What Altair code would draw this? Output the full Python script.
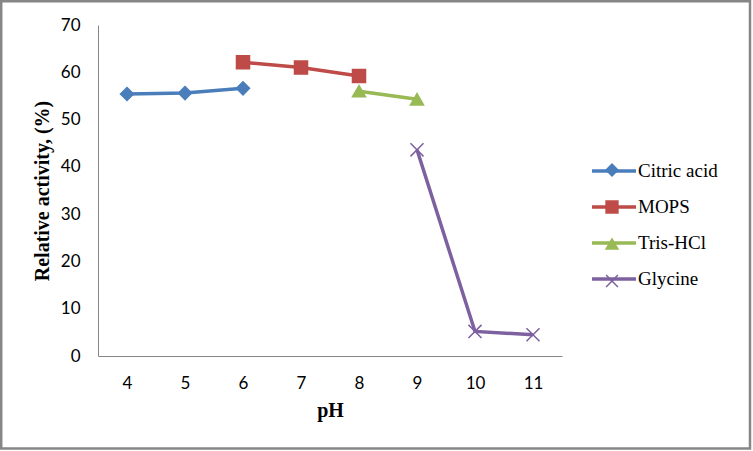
import altair as alt
import pandas as pd

series_names = ["Citric acid", "MOPS", "Tris-HCl", "Glycine"]
ph_labels = ["4", "5", "6", "7", "8", "9", "10", "11"]

citric_ph = ["4", "5", "6"]
citric_val = [55.4, 55.6, 56.6]
mops_ph = ["6", "7", "8"]
mops_val = [62.1, 61.0, 59.2]
tris_ph = ["8", "9"]
tris_val = [56.0, 54.3]
gly_ph = ["9", "10", "11"]
gly_val = [43.6, 5.2, 4.5]

colors = ["#4A7EBB", "#BE4B48", "#98B954", "#7D60A0"]
shapes = ["diamond", "square", "triangle-up", "M-1,-1L1,1M-1,1L1,-1"]

# marker-legend keys (kept distinct so the two legends are not merged)
marker_keys = [n + " " for n in series_names]

rows = []
for name, key, phs, vals in [("Citric acid", marker_keys[0], citric_ph, citric_val),
                             ("MOPS", marker_keys[1], mops_ph, mops_val),
                             ("Tris-HCl", marker_keys[2], tris_ph, tris_val),
                             ("Glycine", marker_keys[3], gly_ph, gly_val)]:
    for p, v in zip(phs, vals):
        rows.append({"series": name, "marker": key, "ph": p, "value": v})
df = pd.DataFrame(rows)

SERIF = "Liberation Serif"
SANS = "Lato"

x_enc = alt.X("ph:N", sort=ph_labels,
              scale=alt.Scale(domain=ph_labels, padding=0.5),
              axis=alt.Axis(title="pH", labelAngle=0, ticks=False, grid=False,
                            labelPadding=19, titlePadding=9,
                            labelFont=SANS, labelFontSize=17, labelColor="#000000",
                            titleFont=SERIF, titleFontSize=20, titleFontWeight="bold",
                            titleColor="#000000",
                            domainColor="#868686", domainWidth=1))
y_enc = alt.Y("value:Q", scale=alt.Scale(domain=[0, 70], nice=False),
              axis=alt.Axis(title="Relative activity, (%)", values=list(range(0, 71, 10)),
                            ticks=False, grid=False, labelPadding=18, titlePadding=8,
                            labelFont=SANS, labelFontSize=17, labelColor="#000000",
                            titleFont=SERIF, titleFontSize=20, titleFontWeight="bold",
                            titleColor="#000000",
                            domainColor="#868686", domainWidth=1))

line_legend = alt.Legend(title=None, orient="none", legendX=492, legendY=122,
                         symbolType="stroke", symbolSize=1936, symbolStrokeWidth=3.5,
                         labelFont=SERIF, labelFontSize=19, labelColor="#000000",
                         labelOffset=0, rowPadding=2, padding=0)
point_legend = alt.Legend(title=None, orient="none", legendX=507, legendY=138,
                          symbolSize=140, symbolStrokeWidth=1.5,
                          labelExpr="''", labelOffset=0, rowPadding=19, padding=0)

base = alt.Chart(df)

lines = base.mark_line(strokeWidth=3.5).encode(
    x=x_enc, y=y_enc,
    color=alt.Color("series:N", scale=alt.Scale(domain=series_names, range=colors),
                    legend=line_legend),
    detail="series:N",
)

points = base.mark_point(filled=True, size=170, strokeWidth=1.5, opacity=1).encode(
    x=x_enc, y=y_enc,
    fill=alt.Fill("marker:N", scale=alt.Scale(domain=marker_keys, range=colors),
                  legend=point_legend),
    stroke=alt.Stroke("marker:N", scale=alt.Scale(domain=marker_keys, range=colors),
                      legend=point_legend),
    shape=alt.Shape("marker:N", scale=alt.Scale(domain=marker_keys, range=shapes),
                    legend=point_legend),
)

frame = alt.Chart(pd.DataFrame({"f": [0]})).mark_rect(
    fill="#ffffff", fillOpacity=0, stroke="#868686", strokeWidth=2.5
).encode(x=alt.value(-96.8), x2=alt.value(652), y=alt.value(-23.8), y2=alt.value(423.5))

chart = alt.layer(frame, lines, points).properties(
    width=464, height=331,
    padding={"left": 98, "top": 25, "right": 191, "bottom": 95},
    autosize=alt.AutoSizeParams(type="none"),
    background="#ffffff",
).configure_view(stroke=None)

chart.save("out.html", embed_options={"renderer": "svg", "actions": False})
